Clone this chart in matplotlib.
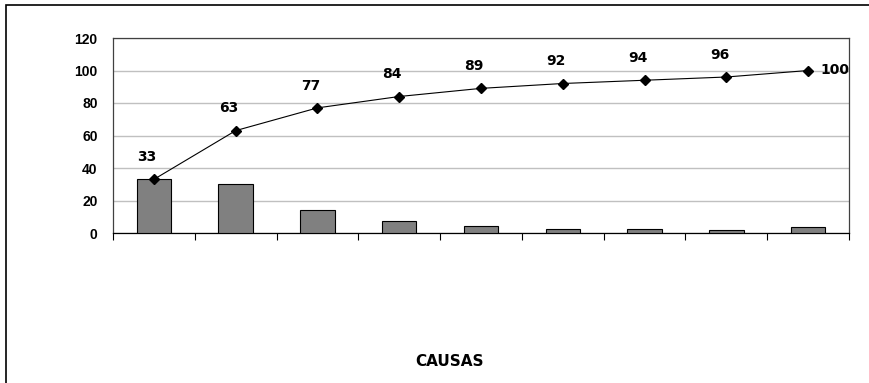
import numpy as np
import matplotlib
matplotlib.use("Agg")
import matplotlib.pyplot as plt
from matplotlib.patches import Rectangle

# Datos del diagrama de Pareto
causas = ["C1", "C2", "C3", "C4", "C5", "C6", "C7", "C8", "C9"]
frecuencia = [33, 30, 14, 7.5, 4.5, 2.5, 2.5, 2, 3.5]
acumulado = [33, 63, 77, 84, 89, 92, 94, 96, 100]
y_ticks = [0, 20, 40, 60, 80, 100, 120]

fig = plt.figure(figsize=(8.7, 3.83), dpi=100)
ax = fig.add_axes([113 / 870, 1 - 233 / 383, (849 - 113) / 870, (233 - 38) / 383])

# marco exterior del grafico
fig.patches.append(Rectangle((6 / 870, -0.05), 1.1, 1 - 5 / 383 + 0.05,
                             transform=fig.transFigure, fill=False,
                             edgecolor="black", linewidth=1.2))

x = np.arange(len(causas))
ax.bar(x, frecuencia, width=0.42, color="#808080", edgecolor="black",
       linewidth=0.8, zorder=3)
ax.plot(x, acumulado, color="black", linewidth=0.8, marker="D",
        markersize=5, zorder=4)

for i, v in enumerate(acumulado):
    if i == len(acumulado) - 1:
        ax.annotate(str(v), (x[i], v), xytext=(9, 0), textcoords="offset points",
                    ha="left", va="center", fontsize=10, fontweight="bold")
    else:
        ax.annotate(str(v), (x[i], v), xytext=(-5, 16), textcoords="offset points",
                    ha="center", va="center", fontsize=10, fontweight="bold")

ax.set_xlim(-0.5, len(causas) - 0.5)
ax.set_ylim(0, 120)
ax.set_yticks(y_ticks)
ax.set_yticklabels([str(t) for t in y_ticks], fontsize=10, fontweight="bold",
                   family="Liberation Sans")
ax.tick_params(axis="y", length=0, pad=11)
ax.set_xticks(np.arange(len(causas) + 1) - 0.5)
ax.set_xticklabels([])
ax.tick_params(axis="x", length=5, width=0.8, direction="out")
ax.grid(axis="y", color="#c0c0c0", linewidth=1.0, zorder=0)
ax.set_axisbelow(True)
for s in ax.spines.values():
    s.set_color("#404040")
    s.set_linewidth(0.9)
ax.spines["bottom"].set_color("black")

fig.text(450 / 870, 1 - 362 / 383, "CAUSAS", ha="center", va="center",
         fontsize=11, fontweight="bold")

fig.savefig("out.png", dpi=100)
